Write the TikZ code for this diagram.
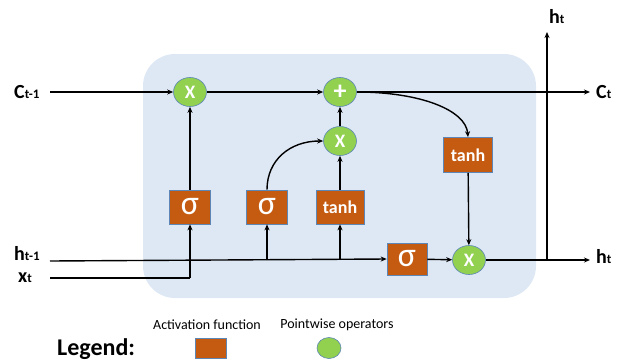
\documentclass[tikz,border=0pt]{standalone}
\usepackage{fontspec}
\setmainfont{Carlito}
\usetikzlibrary{arrows.meta,shapes.geometric}
\definecolor{cellbg}{HTML}{DEE8F4}
\definecolor{actfill}{HTML}{C55A11}
\definecolor{opfill}{HTML}{92D050}
\definecolor{edgeblue}{HTML}{5B86B5}
\tikzset{
  act/.style={draw=edgeblue, line width=0.6pt, fill=actfill, text=white, font=\bfseries\fontsize{18}{18}\selectfont, inner sep=0pt, minimum height=34pt},
  sig/.style={act, font=\fontsize{34}{34}\selectfont, minimum width=41pt},
  op/.style={ellipse, draw=edgeblue, line width=0.6pt, fill=opfill, text=white, font=\bfseries\fontsize{19}{19}\selectfont, inner sep=0pt, minimum width=33pt, minimum height=29pt},
  lbl/.style={font=\bfseries\fontsize{20}{20}\selectfont, inner sep=0pt},
  wire/.style={line width=1.4pt, black},
  arr/.style={wire, -{Stealth[length=6pt,width=5pt]}}
}
\newcommand{\sbs}[1]{{\fontsize{13}{13}\selectfont #1}}
\begin{document}
\begin{tikzpicture}[x=1pt,y=-1pt]
\useasboundingbox (0,0) rectangle (625,360);
% cell body
\fill[cellbg, rounded corners=32pt] (143,54) rectangle (536,298);

% pointwise operators
\node[op] (m1) at (190,92) {X};
\node[op, font=\bfseries\fontsize{26}{26}\selectfont] (add) at (340,92) {+};
\node[op] (m2) at (340,141) {X};
\node[op] (m3) at (469,260) {X};

% activation functions
\node[sig] (s1) at (190,207) {σ};
\node[sig] (s2) at (267,207) {σ};
\node[act, minimum width=48pt] (t1) at (340,207) {tanh};
\node[sig, minimum height=32pt, minimum width=40pt] (s3) at (407,259) {σ};
\node[act, minimum width=49pt, minimum height=35pt] (t2) at (468,155) {tanh};

% inputs and outputs
\node[lbl, anchor=west] (cin) at (14,92) {C\sbs{t-1}};
\node[lbl, anchor=west] (hin) at (14,254) {h\sbs{t-1}};
\node[lbl, anchor=west] (xin) at (18,278) {x\sbs{t}};
\node[lbl, anchor=west] (cout) at (596,92) {C\sbs{t}};
\node[lbl, anchor=west] (hout) at (596,257) {h\sbs{t}};
\node[lbl, anchor=west] (htop) at (549,17) {h\sbs{t}};

\coordinate (cinE) at (50,92);
\coordinate (hinE) at (50,261);
\coordinate (xinE) at (50,278);
\coordinate (xturn) at (190,278);
\coordinate (br2) at (267,260);
\coordinate (br3) at (340,260);
\coordinate (coutW) at (590,92);
\coordinate (houtW) at (590,260);
\coordinate (split) at (547,260);
\coordinate (hup) at (547,32);

% cell state path
\draw[arr] (cinE) -- (m1);
\draw[arr] (m1) -- (add);
\draw[arr] (add) -- (coutW);
% forget gate
\draw[wire] (xinE) -- (xturn);
\draw[arr] (xturn) -- (s1);
\draw[arr] (s1) -- (m1);
% input gate
\draw[arr] (hinE) -- (s3.west);
\draw[arr] (br2) -- (s2);
\draw[arr] (br3) -- (t1);
\draw[arr] (s2.north) .. controls (267,160) and (290,141) .. (m2.west);
\draw[arr] (t1) -- (m2);
\draw[arr] (m2) -- (add);
% output gate
\draw[arr] (add.east) .. controls (420,92) and (466,110) .. (t2.north);
\draw[arr] (t2) -- (m3);
\draw[arr] (s3) -- (m3);
\draw[arr] (m3) -- (houtW);
\draw[arr] (split) -- (hup);

% legend
\node[font=\bfseries\fontsize{24}{24}\selectfont, anchor=west, inner sep=0pt] (leg) at (57,349) {Legend:};
\node[font=\fontsize{14}{14}\selectfont, inner sep=0pt] (legA) at (207,325) {Activation function};
\node[font=\fontsize{14}{14}\selectfont, inner sep=0pt] (legP) at (337,325) {Pointwise operators};
\node[draw=edgeblue, line width=0.6pt, fill=actfill, minimum width=31pt, minimum height=20pt, inner sep=0pt] (legbox) at (211,348) {};
\node[ellipse, draw=edgeblue, line width=0.6pt, fill=opfill, minimum width=24pt, minimum height=21pt, inner sep=0pt] (legcirc) at (329,348) {};
\end{tikzpicture}
\end{document}
